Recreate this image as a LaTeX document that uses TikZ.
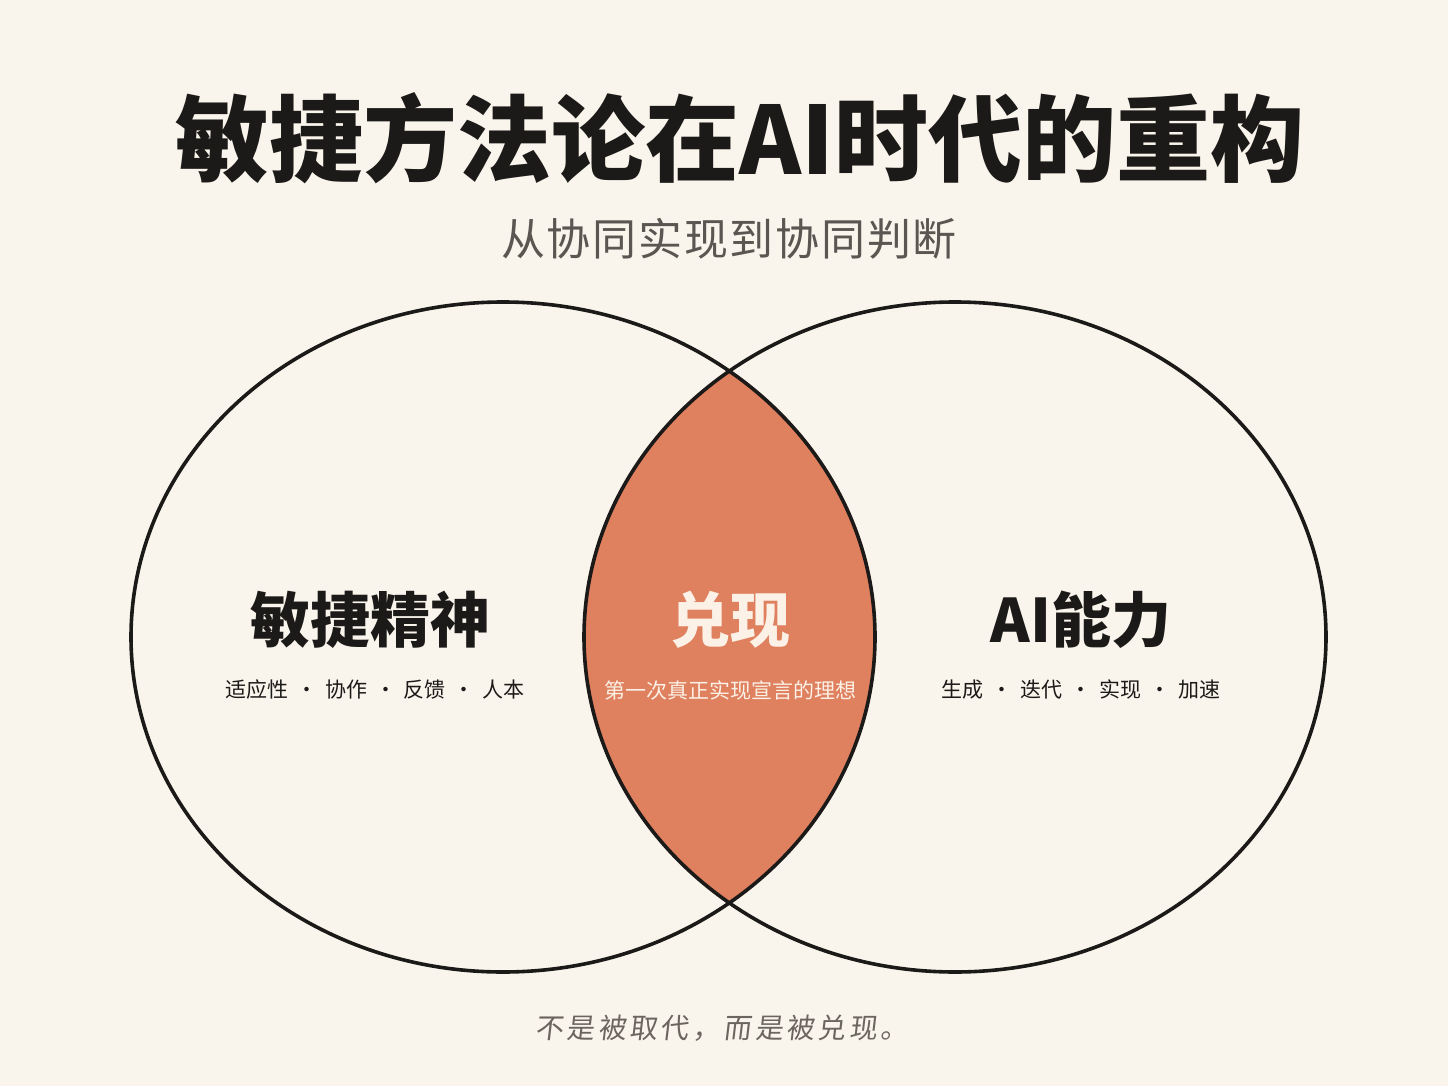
\documentclass[tikz,border=0pt]{standalone}
\usepackage{fontspec}
\setmainfont{Noto Sans CJK SC}
\newfontfamily\slantcjk[FakeSlant=0.12,LetterSpace=12]{Noto Sans CJK SC}
\newfontfamily\spacedcjk[LetterSpace=4]{Noto Sans CJK SC}
\definecolor{bg}{HTML}{FAF5EC}
\definecolor{lensfill}{HTML}{DF805F}
\definecolor{ink}{HTML}{1C1A18}
\definecolor{greytext}{HTML}{5B5651}
\definecolor{mottogrey}{HTML}{6B655F}
\definecolor{cream}{HTML}{FBF1E6}
\newcommand\sepd{\hspace{0.38em}·\hspace{0.38em}}
\tikzset{
  ring/.style={draw=ink, line width=3.6pt},
  titlestyle/.style={inner sep=0pt, text=ink, font=\fontsize{94}{100}\selectfont\bfseries},
  subt/.style={inner sep=0pt, text=greytext, font=\spacedcjk\fontsize{44}{48}\selectfont},
  lab/.style={inner sep=0pt, text=ink, font=\fontsize{60}{66}\selectfont\bfseries},
  smalltext/.style={inner sep=0pt, text=ink, font=\fontsize{21}{24}\selectfont},
  motto/.style={inner sep=0pt, text=mottogrey, font=\slantcjk\fontsize{28}{30}\selectfont},
}
\begin{document}
\begin{tikzpicture}[x=1pt,y=-1pt]
\path[fill=bg] (0,0) rectangle (1448,1086);
\begin{scope}
  \clip (503,637) ellipse [x radius=372, y radius=335];
  \fill[lensfill] (955,637) ellipse [x radius=371, y radius=335];
\end{scope}
\draw[ring] (503,637) ellipse [x radius=372, y radius=335];
\draw[ring] (955,637) ellipse [x radius=371, y radius=335];
\node[titlestyle] (title) at (740,138) {敏捷方法论在AI时代的重构};
\node[subt] (subtitle) at (729,239) {从协同实现到协同判断};
\node[lab] (agile) at (370,620) {敏捷精神};
\node[lab, text=cream] (realize) at (730,620) {兑现};
\node[lab] (ai) at (1081,620) {AI能力};
\node[smalltext] (agilesub) at (375,690) {适应性\sepd 协作\sepd 反馈\sepd 人本};
\node[smalltext, text=cream] (realizesub) at (730,690) {第一次真正实现宣言的理想};
\node[smalltext] (aisub) at (1081,690) {生成\sepd 迭代\sepd 实现\sepd 加速};
\node[motto] (mottotext) at (722,1028) {不是被取代，而是被兑现。};
\end{tikzpicture}
\end{document}
